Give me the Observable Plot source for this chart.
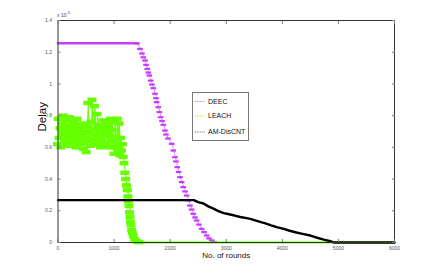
<!DOCTYPE html>
<html><head><meta charset="utf-8">
<script src="https://cdn.jsdelivr.net/npm/d3@7"></script>
<script src="https://cdn.jsdelivr.net/npm/@observablehq/plot@0.6"></script>
<style>
body{margin:0;background:#fff;}
#wrap{position:relative;width:436px;height:273px;overflow:hidden;}
#legend{position:absolute;left:192px;top:92px;overflow:visible;}
#exp{position:absolute;left:57px;top:10px;font-family:"Liberation Sans",Arial,sans-serif;font-size:5px;color:#444;}
#exp sup{font-size:4px;vertical-align:3px;}
</style>
</head><body>
<div id="wrap"><div id="chart"></div>
<div id="exp">x 10<sup>-5</sup></div>
<svg id="legend" width="58" height="50"></svg></div>
<script>
// ---- data (delay in units of 1e-5) ----
const xTicks = [0, 1000, 2000, 3000, 4000, 5000, 6000];
const yTicks = [0, 0.2, 0.4, 0.6, 0.8, 1, 1.2, 1.4];
const yTickLabels = ["0", "0.2", "0.4", "0.6", "0.8", "1", "1.2", "1.4"];
const seriesNames = ["DEEC", "LEACH", "AM-DisCNT"];

// DEEC: flat part then decline
const deecFlatRounds = [0, 1417];
const deecFlatDelay = [1.256, 1.256];
const deecRounds = [1417,1471,1506,1529,1560,1578,1601,1619,1636,1661,1684,1708,1738,1756,1768,1797,1815,1840,1863,1886,1916,1934,1970,2036,2064,2094,2112,2135,2159,2184,2212,2242,2273,2303,2332,2362,2390,2421,2451,2481,2522,2570,2611,2660,2701,2749,2790];
const deecDelay = [1.256,1.221,1.192,1.168,1.148,1.120,1.095,1.072,1.053,1.021,0.996,0.973,0.938,0.910,0.885,0.853,0.822,0.790,0.766,0.742,0.706,0.681,0.656,0.622,0.580,0.538,0.511,0.475,0.445,0.412,0.381,0.349,0.322,0.296,0.265,0.233,0.208,0.181,0.158,0.139,0.113,0.086,0.066,0.044,0.026,0.013,0.003];

// LEACH: noisy band then steep decline
const leachRounds = [0,15,30,45,60,75,90,105,120,135,150,165,180,195,210,225,240,255,270,285,300,315,330,345,360,375,390,405,420,435,450,465,480,495,510,525,540,555,570,585,600,615,630,645,660,675,690,705,720,735,750,765,780,795,810,825,840,855,870,885,900,915,930,945,960,975,990,1005,1020,1035,1050,1065,1080,1095,1110,1125,1140,1155,1170,1185,1200,1215,1230,1244,1255,1265,1275,1285,1292,1300,1310,1322,1335,1351,1375,1411,1450];
const leachDelay = [0.62,0.78,0.66,0.72,0.60,0.75,0.68,0.80,0.64,0.70,0.77,0.62,0.73,0.66,0.79,0.61,0.69,0.74,0.63,0.76,0.67,0.71,0.60,0.78,0.65,0.72,0.62,0.74,0.68,0.63,0.75,0.59,0.70,0.66,0.57,0.73,0.88,0.64,0.69,0.61,0.76,0.90,0.65,0.71,0.86,0.62,0.68,0.81,0.63,0.74,0.66,0.60,0.72,0.64,0.77,0.61,0.70,0.67,0.75,0.62,0.69,0.73,0.60,0.78,0.64,0.71,0.66,0.56,0.76,0.60,0.63,0.78,0.58,0.75,0.55,0.66,0.58,0.62,0.54,0.50,0.44,0.40,0.36,0.33,0.29,0.26,0.23,0.19,0.16,0.13,0.11,0.08,0.06,0.04,0.02,0.008,0.002];
const leachZeroRounds = [1450, 6000];
const leachZeroDelay = [0, 0];

// AM-DisCNT
const amRounds = [0,2421,2500,2594,2680,2772,2860,2955,3050,3150,3250,3340,3431,3530,3620,3699,3800,3900,4025,4130,4251,4380,4501,4620,4740,4857,4916,6000];
const amDelay = [0.267,0.267,0.255,0.246,0.228,0.214,0.198,0.185,0.178,0.170,0.161,0.155,0.149,0.138,0.128,0.120,0.108,0.097,0.086,0.074,0.063,0.053,0.044,0.030,0.018,0.008,0,0];

const colors = ["#c63cff", "#66ff00", "#000000"];
const legendSwatch = ["#d27cff", "#8cff40", "#8c8c8c"];

// ---- build tables ----
const zip = (r, v) => r.map((x, i) => ({r: x, v: v[i]}));
const deecFlat = zip(deecFlatRounds, deecFlatDelay);
const deec = zip(deecRounds, deecDelay);
const leach = zip(leachRounds, leachDelay);
const leachZero = zip(leachZeroRounds, leachZeroDelay);
const am = zip(amRounds, amDelay);

const font = "'Liberation Sans',Arial,sans-serif";

const chart = Plot.plot({
  width: 436, height: 273,
  marginLeft: 57.5, marginRight: 42, marginTop: 20, marginBottom: 31,
  x: {domain: [0, 6000]},
  y: {domain: [0, 1.4]},
  style: {fontFamily: font, fontSize: "5px", color: "#555", background: "#fff"},
  marks: [
    // DEEC
    Plot.line(deecFlat, {x: "r", y: "v", stroke: colors[0], strokeWidth: 2.5}),
    Plot.line(deec, {x: "r", y: "v", stroke: colors[0], strokeWidth: 0.8, strokeDasharray: "1,1.5"}),
    Plot.ruleY(deec, {y: "v", x1: d => d.r - 50, x2: d => d.r + 50, stroke: colors[0], strokeWidth: 2.2}),
    // LEACH
    Plot.line(leach, {x: "r", y: "v", stroke: colors[1], strokeWidth: 1.2}),
    Plot.ruleY(leach, {y: "v", x1: d => d.r - 80, x2: d => d.r + 80, stroke: colors[1], strokeWidth: 4.5}),
    Plot.line(leachZero, {x: "r", y: "v", stroke: colors[1], strokeWidth: 2}),
    // AM-DisCNT
    Plot.line(am, {x: "r", y: "v", stroke: colors[2], strokeWidth: 2.4}),
    // axes
    Plot.frame({stroke: "#333", strokeWidth: 1}),
    Plot.axisX(xTicks, {anchor: "bottom", tickSize: -3, tickPadding: 6.5, tickFormat: d => String(d), label: null, stroke: "#777"}),
    Plot.axisX(xTicks, {anchor: "top", tickSize: -3, tickFormat: () => "", label: null, stroke: "#777"}),
    Plot.axisY(yTicks, {anchor: "left", tickSize: -3, tickPadding: 9, tickFormat: (d, i) => yTickLabels[i], label: null, stroke: "#777"}),
    Plot.axisY(yTicks, {anchor: "right", tickSize: -3, tickFormat: () => "", label: null, stroke: "#777"}),
    Plot.text(["No. of rounds"], {frameAnchor: "bottom", text: d => d, dy: 15, fontSize: 8, fill: "#111"}),
    Plot.text(["Delay"], {frameAnchor: "left", text: d => d, dx: -16, rotate: -90, fontSize: 11.5, fill: "#111"})
  ]
});
document.getElementById("chart").appendChild(chart);

// legend (svg)
const lg = d3.select("#legend");
lg.append("rect").attr("x", 0.5).attr("y", 0.5).attr("width", 56).attr("height", 48)
  .attr("fill", "#fff").attr("stroke", "#777");
const rowsY = [9.5, 24, 40];
seriesNames.forEach((n, i) => {
  lg.append("line").attr("x1", 2.5).attr("x2", 13).attr("y1", rowsY[i]).attr("y2", rowsY[i])
    .style("stroke", legendSwatch[i]).style("stroke-width", "1.2px").style("stroke-dasharray", "1.5,1");
  lg.append("text").attr("x", 16).attr("y", rowsY[i]).attr("dy", "0.35em")
    .style("font-family", font).style("font-size", "7px").style("fill", "#111").text(n);
});
</script>
</body></html>
